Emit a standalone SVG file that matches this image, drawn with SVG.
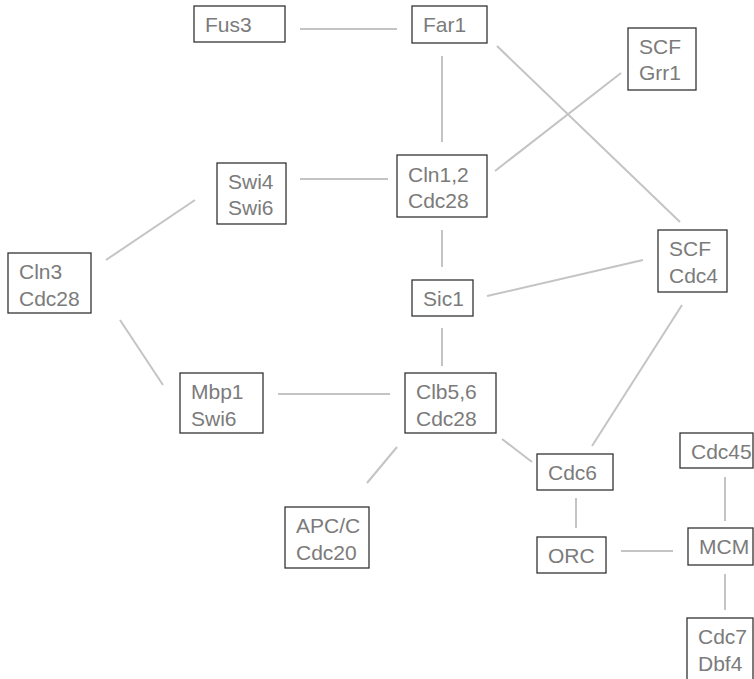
<svg xmlns="http://www.w3.org/2000/svg" width="754" height="679" viewBox="0 0 754 679">
<style>
.b{fill:#fff;stroke:#333;stroke-width:1.3}
.t{font-family:"Liberation Sans",Arial,sans-serif;font-size:21px;fill:#7b7b7b}
.c line{stroke:#c4c4c4;stroke-width:2}
</style>
<rect width="754" height="679" fill="#fff"/>
<g class="c" id="connectors">
<line x1="300" y1="29" x2="397" y2="29"/>
<line x1="442" y1="56" x2="442" y2="142"/>
<line x1="497" y1="46" x2="680" y2="222"/>
<line x1="495" y1="171" x2="621" y2="73"/>
<line x1="300" y1="179" x2="388" y2="179"/>
<line x1="442" y1="230" x2="442" y2="267"/>
<line x1="487" y1="296" x2="643" y2="260"/>
<line x1="106" y1="260" x2="195" y2="200"/>
<line x1="120" y1="320" x2="163" y2="385"/>
<line x1="442" y1="328" x2="442" y2="366"/>
<line x1="278" y1="394" x2="390" y2="394"/>
<line x1="397" y1="447" x2="367" y2="483"/>
<line x1="502" y1="439" x2="532" y2="462"/>
<line x1="682" y1="305" x2="592" y2="446"/>
<line x1="576" y1="498" x2="576" y2="528"/>
<line x1="621" y1="551" x2="673" y2="551"/>
<line x1="725" y1="477" x2="725" y2="521"/>
<line x1="725" y1="574" x2="725" y2="610"/>
</g>
<g id="fus3"><rect class="b" x="194" y="6" width="91" height="36"/><text class="t" x="205" y="32">Fus3</text></g>
<g id="far1"><rect class="b" x="412" y="6" width="75" height="37"/><text class="t" x="423" y="32">Far1</text></g>
<g id="scfgrr1"><rect class="b" x="628" y="28" width="68" height="62"/><text class="t" x="639" y="54">SCF</text><text class="t" x="639" y="80">Grr1</text></g>
<g id="swi4swi6"><rect class="b" x="217" y="163" width="69" height="61"/><text class="t" x="228" y="189">Swi4</text><text class="t" x="228" y="215">Swi6</text></g>
<g id="cln12"><rect class="b" x="397" y="155" width="90" height="62"/><text class="t" x="408" y="182">Cln1,2</text><text class="t" x="408" y="208">Cdc28</text></g>
<g id="scfcdc4"><rect class="b" x="658" y="230" width="69" height="62"/><text class="t" x="669" y="256">SCF</text><text class="t" x="669" y="283">Cdc4</text></g>
<g id="cln3"><rect class="b" x="8" y="253" width="83" height="60"/><text class="t" x="19" y="279">Cln3</text><text class="t" x="19" y="306">Cdc28</text></g>
<g id="sic1"><rect class="b" x="412" y="280" width="61" height="36"/><text class="t" x="423" y="306">Sic1</text></g>
<g id="mbp1"><rect class="b" x="180" y="373" width="83" height="60"/><text class="t" x="191" y="399">Mbp1</text><text class="t" x="191" y="426">Swi6</text></g>
<g id="clb56"><rect class="b" x="405" y="373" width="91" height="60"/><text class="t" x="416" y="399">Clb5,6</text><text class="t" x="416" y="426">Cdc28</text></g>
<g id="cdc6"><rect class="b" x="537" y="454" width="76" height="36"/><text class="t" x="548" y="480">Cdc6</text></g>
<g id="apcc"><rect class="b" x="285" y="507" width="84" height="61"/><text class="t" x="296" y="533">APC/C</text><text class="t" x="296" y="560">Cdc20</text></g>
<g id="orc"><rect class="b" x="537" y="537" width="69" height="36"/><text class="t" x="548" y="563">ORC</text></g>
<g id="cdc45"><rect class="b" x="680" y="433" width="73" height="35"/><text class="t" x="691" y="459">Cdc45</text></g>
<g id="mcm"><rect class="b" x="688" y="528" width="65" height="37"/><text class="t" x="699" y="554">MCM</text></g>
<g id="cdc7"><rect class="b" x="687" y="618" width="66" height="70"/><text class="t" x="698" y="644">Cdc7</text><text class="t" x="698" y="671">Dbf4</text></g>
</svg>
